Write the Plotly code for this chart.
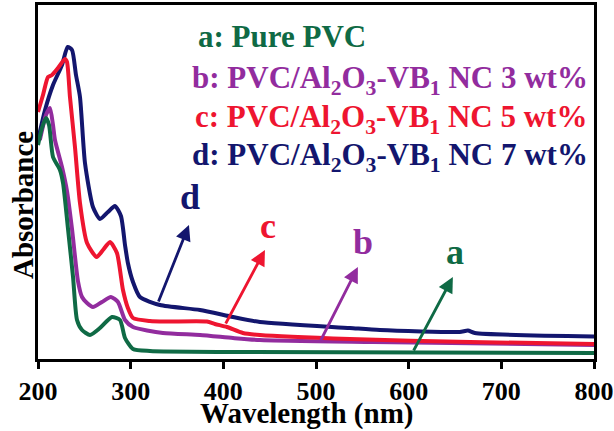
import plotly.graph_objects as go

# ---- data (wavelength nm, absorbance a.u.) ----
wl_d = [200, 207.6, 216.2, 225.9, 232, 236.7, 241, 245.3, 250.7, 259.3, 266.9, 275.5, 283, 289.5, 293.9, 297,
        302.5, 310, 331.6, 374.8, 410.4, 439.5, 536.6, 569, 655, 663.9, 671.4, 800]
ab_d = [2.19, 2.49, 2.74, 2.94, 3.12, 3.09, 2.84, 2.62, 1.96, 1.52, 1.40, 1.47, 1.53, 1.43, 1.14, 0.96,
        0.77, 0.62, 0.54, 0.49, 0.42, 0.37, 0.31, 0.29, 0.27, 0.285, 0.26, 0.225]

wl_c = [200, 205.4, 210.8, 215.1, 221.6, 229.1, 231.3, 234.5, 239.9, 245.3, 252.9, 263.3, 270.1, 277.7, 285.2,
        291.7, 297, 302.5, 320.8, 339.2, 382.3, 390.9, 403.9, 421.1, 439.5, 536.6, 666, 800]
ab_c = [2.47, 2.64, 2.82, 2.84, 2.91, 3.00, 2.97, 2.62, 2.12, 1.56, 1.16, 1.02, 1.09, 1.17, 1.06,
        0.69, 0.51, 0.41, 0.38, 0.375, 0.375, 0.35, 0.32, 0.26, 0.24, 0.20, 0.17, 0.15]

wl_b = [202, 208.6, 212.9, 216.2, 218.3, 225.9, 231.3, 236.7, 243.1, 247.5, 252.9, 259.3, 269, 278.7, 286.3,
        293.9, 302.5, 334.8, 374.8, 410.4, 439.5, 561.4, 800]
ab_b = [2.19, 2.44, 2.51, 2.34, 2.19, 1.92, 1.68, 1.30, 0.78, 0.62, 0.56, 0.52, 0.57, 0.62, 0.57,
        0.39, 0.32, 0.26, 0.24, 0.21, 0.19, 0.17, 0.14]

wl_a = [200, 204.3, 208.6, 211.9, 216.2, 223.7, 227, 232.4, 237.8, 242.1, 247.5, 256.1, 266.9, 279.8, 288.5,
        293.9, 302.5, 320.8, 410.4, 800]
ab_a = [2.14, 2.31, 2.41, 2.34, 2.02, 1.89, 1.76, 1.30, 0.82, 0.39, 0.29, 0.24, 0.31, 0.42, 0.39,
        0.21, 0.10, 0.08, 0.07, 0.06]

x_ticks = [200, 300, 400, 500, 600, 700, 800]

names = ["a", "b", "c", "d"]
legend_texts = [
    "a: Pure PVC",
    "b: PVC/Al<sub>2</sub>O<sub>3</sub>-VB<sub>1</sub> NC 3 wt%",
    "c: PVC/Al<sub>2</sub>O<sub>3</sub>-VB<sub>1</sub> NC 5 wt%",
    "d: PVC/Al<sub>2</sub>O<sub>3</sub>-VB<sub>1</sub> NC 7 wt%",
]
# arrow tail (on curve) and head, label position (nm, absorbance)
arrow_tail_x = [604.5, 504.2, 401.7, 329.4]
arrow_tail_y = [0.07, 0.17, 0.34, 0.56]
arrow_head_x = [647.7, 545.2, 444.9, 362.9]
arrow_head_y = [0.82, 0.92, 1.09, 1.34]
label_x = [650, 550.6, 448, 364]
label_y = [1.07, 1.17, 1.33, 1.62]

colors = {"a": "#0f6a45", "b": "#922c9e", "c": "#ee1530", "d": "#13166e"}

FONT = "Liberation Serif, Times New Roman, serif"

fig = go.Figure()
series = {"d": (wl_d, ab_d), "b": (wl_b, ab_b), "c": (wl_c, ab_c), "a": (wl_a, ab_a)}
for key in ["d", "b", "c", "a"]:
    xs, ys = series[key]
    fig.add_trace(go.Scatter(x=xs, y=ys, mode="lines",
                             line=dict(color=colors[key], width=4, shape="spline", smoothing=0.6),
                             showlegend=False, hoverinfo="skip"))

annotations = []
for i, key in enumerate(names):
    annotations.append(dict(x=arrow_head_x[i], y=arrow_head_y[i], ax=arrow_tail_x[i], ay=arrow_tail_y[i],
                            xref="x", yref="y", axref="x", ayref="y", text="", showarrow=True,
                            arrowhead=2, arrowsize=1.1, arrowwidth=2.8, arrowcolor=colors[key]))
    annotations.append(dict(x=label_x[i], y=label_y[i], xref="x", yref="y", text="<b>%s</b>" % key,
                            showarrow=False, font=dict(family=FONT, size=36, color=colors[key]),
                            xanchor="center", yanchor="middle"))

leg_x = [0.284, 0.273, 0.278, 0.273]
leg_y = [0.912, 0.787, 0.678, 0.571]
for i, key in enumerate(names):
    annotations.append(dict(x=leg_x[i], y=leg_y[i], xref="paper", yref="paper",
                            text="<b>%s</b>" % legend_texts[i], showarrow=False,
                            font=dict(family=FONT, size=31, color=colors[key]),
                            xanchor="left", yanchor="middle"))

# axis titles
annotations.append(dict(x=0.483, y=-0.153, xref="paper", yref="paper", text="<b>Wavelength (nm)</b>",
                        showarrow=False, font=dict(family=FONT, size=29, color="black"),
                        xanchor="center", yanchor="middle"))
annotations.append(dict(x=-0.027, y=0.435, xref="paper", yref="paper", text="<b>Absorbance</b>",
                        showarrow=False, textangle=-90, font=dict(family=FONT, size=29, color="black"),
                        xanchor="center", yanchor="middle"))

fig.update_layout(
    width=614, height=431,
    margin=dict(l=38, r=20, t=5, b=72, autoexpand=False),
    paper_bgcolor="white", plot_bgcolor="white",
    annotations=annotations,
    font=dict(family=FONT, color="black"),
)
fig.update_xaxes(range=[200, 800], tickvals=x_ticks, ticktext=["<b>%d</b>" % v for v in x_ticks],
                 ticks="outside", ticklen=7, tickwidth=2.5, tickcolor="black",
                 tickfont=dict(family=FONT, size=26, color="black"), ticklabeloverflow="allow",
                 automargin=False,
                 showline=True, linewidth=3, linecolor="black", mirror=True, showgrid=False, zeroline=False)
fig.update_yaxes(range=[0, 3.54], showticklabels=False, ticks="", automargin=False,
                 showline=True, linewidth=3, linecolor="black", mirror=True, showgrid=False, zeroline=False)

fig.write_html("out.html")
